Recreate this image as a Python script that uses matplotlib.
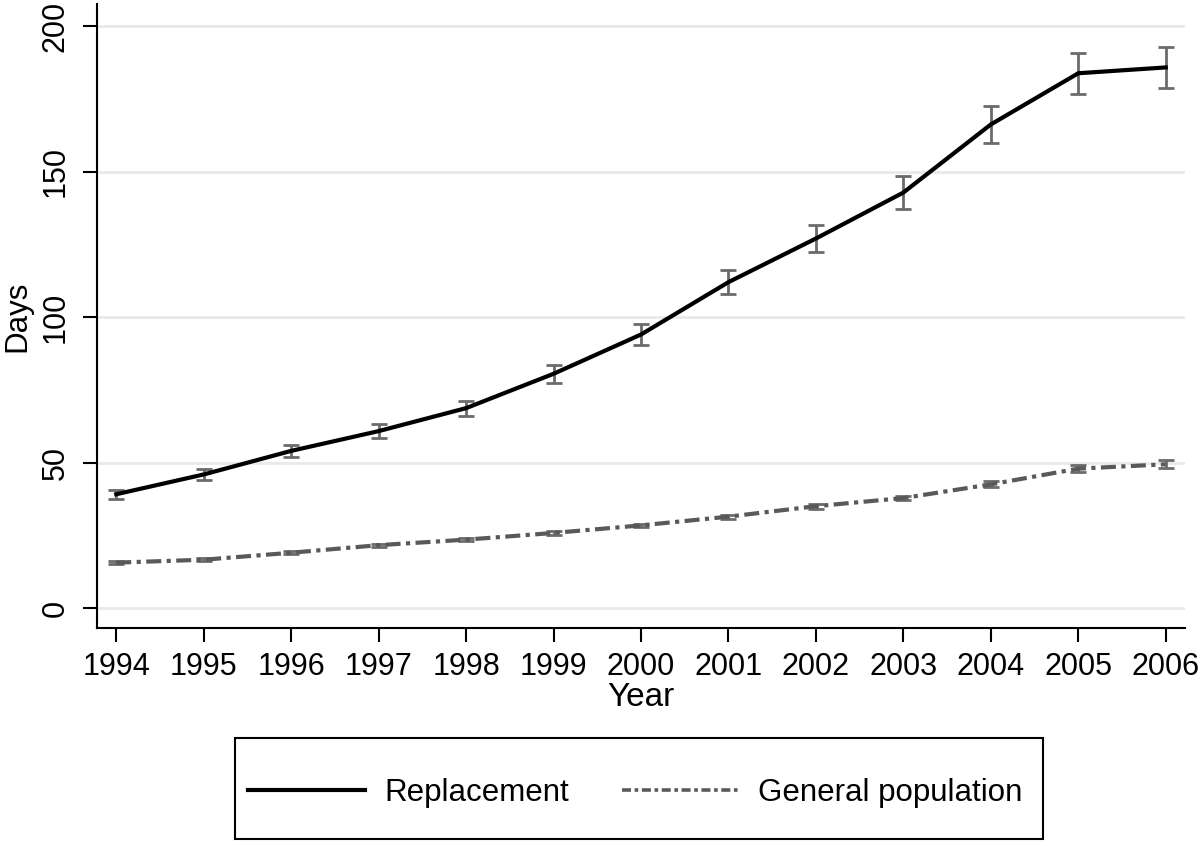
import matplotlib
matplotlib.use("Agg")
import matplotlib.pyplot as plt
from matplotlib.lines import Line2D
from matplotlib.patches import Rectangle

years = [1994, 1995, 1996, 1997, 1998, 1999, 2000, 2001, 2002, 2003, 2004, 2005, 2006]
replacement = [39.1, 45.9, 54.0, 60.8, 68.7, 80.5, 94.0, 112.0, 127.0, 142.8, 166.2, 183.8, 185.8]
replacement_err = [1.6, 1.9, 2.1, 2.3, 2.6, 3.0, 3.6, 4.2, 4.8, 5.6, 6.4, 7.0, 7.1]
general = [15.6, 16.6, 19.0, 21.6, 23.5, 25.8, 28.4, 31.4, 35.0, 37.8, 42.5, 47.9, 49.4]
general_err = [0.5, 0.5, 0.5, 0.5, 0.6, 0.6, 0.6, 0.7, 0.8, 0.8, 1.0, 1.2, 1.4]
yticks = [0, 50, 100, 150, 200]
labels = ["Replacement", "General population"]

plt.rcParams['font.family'] = ['Liberation Sans', 'DejaVu Sans']

W, H = 1200, 841
fig = plt.figure(figsize=(12, 8.41), dpi=100)
ax = fig.add_axes([97/W, 1 - 628/H, (1185 - 97)/W, (628 - 4)/H])

for yv in yticks:
    ax.axhline(yv, color='#e9e9e9', lw=2, zorder=0)

ebc = '#6b6b6b'
gen_color = '#595959'
dash = (0, (3.6, 1.3, 1, 1.3))
ax.errorbar(years, replacement, yerr=replacement_err, fmt='none', ecolor=ebc,
            elinewidth=2.0, capsize=5.8, capthick=2.0, zorder=2)
ax.errorbar(years, general, yerr=general_err, fmt='none', ecolor=ebc,
            elinewidth=2.0, capsize=5.8, capthick=2.0, zorder=2)
ax.plot(years, replacement, color='black', lw=3.0, zorder=3)
ax.plot(years, general, color=gen_color, lw=3.0, zorder=3, linestyle=dash)

ax.set_xlim(1993.78, 2006.22)
ax.set_ylim(-6.87, 207.6)
ax.set_xticks(years)
ax.set_yticks(yticks)
ax.tick_params(axis='x', labelsize=22, length=10, width=1.5, direction='out', pad=7)
ax.tick_params(axis='y', labelsize=22, length=10, width=1.5, direction='out', pad=9,
               labelrotation=90)
for lbl in ax.get_yticklabels():
    lbl.set_va('center')
ax.spines['top'].set_visible(False)
ax.spines['right'].set_visible(False)
ax.spines['left'].set_linewidth(1.5)
ax.spines['bottom'].set_linewidth(1.5)
ax.set_xlabel("Year", fontsize=24, labelpad=0)
ax.set_ylabel("Days", fontsize=22.5, labelpad=6)

handles = [Line2D([], [], color='black', lw=3.0),
           Line2D([], [], color=gen_color, lw=2.6, linestyle=(0, (2.5, 1.0, 1, 1.0)))]
leg = fig.legend(handles, labels, loc='center left', ncol=2,
                 bbox_to_anchor=(248/W, 1 - 793/H),
                 fontsize=22.5, frameon=False, borderpad=0, borderaxespad=0,
                 handlelength=3.75, handletextpad=0.6, columnspacing=1.7)

fig.patches.append(Rectangle((235/W, 1 - 839/H), (1043 - 235)/W, (839 - 738)/H,
                             transform=fig.transFigure, fill=False,
                             edgecolor='black', lw=1.5))

fig.savefig("out.png", dpi=100)
